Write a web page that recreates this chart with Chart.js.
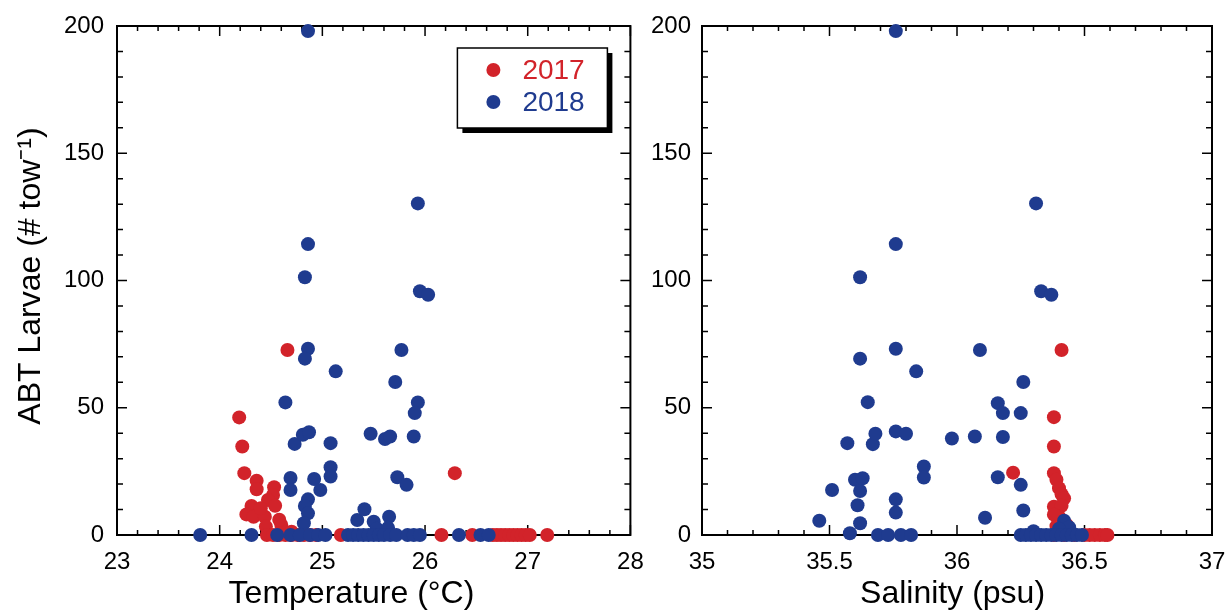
<!DOCTYPE html>
<html>
<head>
<meta charset="utf-8">
<script src="https://cdn.jsdelivr.net/npm/chart.js@4/dist/chart.umd.min.js"></script>
<style>
html, body { margin: 0; padding: 0; background: #fff; overflow: hidden; }
#wrap { position: relative; width: 1229px; height: 613px; }
canvas { position: absolute; top: 0; }
#chartT { left: 0; }
#chartS { left: 640px; }
</style>
</head>
<body>
<div id="wrap">
  <canvas id="chartT" width="660" height="613"></canvas>
  <canvas id="chartS" width="589" height="613"></canvas>
</div>
<script>
// ABT larvae vs temperature / salinity, 2017 and 2018 cruises
const years = ['2017', '2018'];
const red = '#d2232a';
const blue = '#1f3b8f';

// temperature panel (°C, # tow-1)
const temp2017 = [24.19, 24.22, 24.24, 24.36, 24.36, 24.53, 24.52, 24.47, 24.54, 24.31, 24.26, 24.33, 24.44, 24.45, 24.60, 24.70, 24.66, 26.29, 24.40, 24.58,
  24.46, 24.52, 24.58, 24.64, 24.70, 24.76, 24.82, 24.88, 24.94, 25.18, 26.16, 26.46, 26.66, 26.70, 26.74, 26.78, 26.82, 26.86, 26.90, 26.94, 26.98, 27.02, 27.19];
const larvaeT2017 = [46.2, 34.8, 24.3, 21.3, 18.0, 18.8, 15.7, 13.8, 11.5, 11.4, 8.1, 7.2, 7.2, 3.3, 3.9, 1.3, 72.7, 24.3, 10.5, 6.0,
  0, 0, 0, 0, 0, 0, 0, 0, 0, 0, 0, 0, 0, 0, 0, 0, 0, 0, 0, 0, 0, 0, 0];
const temp2018 = [24.86, 25.93, 24.86, 24.83, 25.95, 26.03, 24.86, 24.83, 25.77, 25.13, 25.71, 24.64, 25.93, 25.90, 24.73, 24.81, 24.87, 25.08, 25.08, 25.08,
  24.69, 24.69, 24.92, 24.98, 24.86, 24.83, 24.86, 24.82, 25.34, 25.47, 25.61, 25.66, 25.89, 25.73, 25.82, 25.41, 25.50, 25.65, 25.53, 25.64,
  23.81, 24.31, 24.56, 24.69, 24.78, 24.88, 24.96, 25.03, 25.25, 25.30, 25.35, 25.40, 25.45, 25.50, 25.55, 25.60, 25.66, 25.72, 25.83, 25.89, 25.95, 26.33, 26.54, 26.62];
const larvaeT2018 = [198, 130.3, 114.3, 101.3, 95.8, 94.4, 73.2, 69.3, 72.7, 64.3, 60.1, 52.1, 52.1, 47.9, 35.8, 39.4, 40.4, 36.1, 26.6, 23.0,
  22.4, 17.7, 22.0, 17.7, 14.0, 11.4, 8.5, 4.6, 5.9, 39.8, 37.7, 38.7, 38.7, 22.7, 19.7, 10.1, 5.2, 7.2, 2.5, 2.8,
  0, 0, 0, 0, 0, 0, 0, 0, 0, 0, 0, 0, 0, 0, 0, 0, 0, 0, 0, 0, 0, 0, 0, 0];

// salinity panel (psu, # tow-1)
const sal2017 = [36.41, 36.38, 36.38, 36.22, 36.38, 36.39, 36.40, 36.41, 36.42, 36.38, 36.41, 36.40, 36.38, 36.43, 36.39, 36.41,
  36.38, 36.42, 36.46, 36.50, 36.52, 36.54, 36.56, 36.58, 36.59];
const larvaeS2017 = [72.7, 46.3, 34.8, 24.5, 24.3, 21.7, 18.4, 16.0, 14.4, 11.1, 11.5, 7.2, 8.0, 4.0, 3.5, 1.5,
  0, 0, 0, 0, 0, 0, 0, 0, 0];
const sal2018 = [35.76, 36.31, 35.76, 35.62, 36.33, 36.37, 35.76, 35.62, 35.84, 36.09, 36.26, 35.65, 36.16, 36.18, 36.25, 35.57, 35.67, 35.68, 35.76, 35.80,
  35.98, 36.07, 36.18, 35.87, 35.87, 35.60, 35.63, 35.62, 35.51, 35.61, 35.76, 35.76, 35.46, 35.62, 35.58, 36.16, 36.25, 36.26, 36.11, 36.42,
  36.44, 36.30, 36.40,
  35.69, 35.73, 35.78, 35.82, 36.25, 36.27, 36.29, 36.31, 36.33, 36.35, 36.37, 36.39, 36.41, 36.43, 36.45, 36.47, 36.49];
const larvaeS2018 = [198, 130.3, 114.3, 101.3, 95.8, 94.4, 73.2, 69.3, 64.3, 72.7, 60.1, 52.2, 51.8, 47.9, 47.9, 36.1, 35.7, 39.8, 40.7, 39.8,
  37.9, 38.7, 38.5, 26.9, 22.6, 21.7, 22.3, 17.3, 17.7, 11.7, 14.0, 8.8, 5.6, 4.6, 0.7, 22.7, 19.7, 9.6, 6.8, 5.6,
  3.0, 1.5, 2.5,
  0, 0, 0, 0, 0, 0, 0, 0, 0, 0, 0, 0, 0, 0, 0, 0, 0];

const FONT = "'Liberation Sans', Arial, Helvetica, sans-serif";

function pts(xs, ys) {
  return xs.map((v, i) => ({ x: v, y: ys[i] }));
}

// only label the major ticks, the rest stay as minor marks
function majorOnly(step) {
  return function (v) {
    const r = Math.round(v / step) * step;
    return Math.abs(v - r) < 1e-6 ? String(+r.toFixed(1)) : '';
  };
}

// closed box with inward ticks on all four sides
const framePlugin = {
  id: 'frame',
  beforeDatasetsDraw(chart) {
    const { ctx, chartArea: a } = chart;
    const x = chart.scales.x, y = chart.scales.y;
    ctx.save();
    ctx.strokeStyle = '#000';
    ctx.lineWidth = 1.5;
    ctx.beginPath();
    x.ticks.forEach(t => {
      const p = x.getPixelForValue(t.value);
      const len = t.label ? 10 : 5;
      ctx.moveTo(p, a.bottom); ctx.lineTo(p, a.bottom - len);
      ctx.moveTo(p, a.top); ctx.lineTo(p, a.top + len);
    });
    y.ticks.forEach(t => {
      const p = y.getPixelForValue(t.value);
      const len = t.label ? 10 : 6;
      ctx.moveTo(a.left, p); ctx.lineTo(a.left + len, p);
      ctx.moveTo(a.right, p); ctx.lineTo(a.right - len, p);
    });
    ctx.stroke();
    ctx.lineWidth = 2;
    ctx.strokeRect(a.left, a.top, a.right - a.left, a.bottom - a.top);
    ctx.restore();
  }
};

// boxed legend with drop shadow, top right of the temperature panel
const boxLegend = {
  id: 'boxLegend',
  afterDatasetsDraw(chart) {
    const { ctx, chartArea: a } = chart;
    const w = 150, h = 80;
    const left = a.right - 23 - w, top = a.top + 22;
    ctx.save();
    ctx.fillStyle = '#000';
    ctx.fillRect(left + 5, top + 5, w, h);
    ctx.fillStyle = '#fff';
    ctx.fillRect(left, top, w, h);
    ctx.strokeStyle = '#000';
    ctx.lineWidth = 1.5;
    ctx.strokeRect(left, top, w, h);
    ctx.font = '28px ' + FONT;
    ctx.textBaseline = 'middle';
    chart.data.datasets.forEach((ds, i) => {
      const cy = top + 22 + i * 32;
      ctx.fillStyle = ds.backgroundColor;
      ctx.beginPath();
      ctx.arc(left + 36, cy, 7, 0, Math.PI * 2);
      ctx.fill();
      ctx.fillText(ds.label, left + 65, cy + 1);
    });
    ctx.restore();
  }
};

function makeDatasets(x17, y17, x18, y18) {
  return [
    { label: years[0], data: pts(x17, y17), backgroundColor: red, order: 2 },
    { label: years[1], data: pts(x18, y18), backgroundColor: blue, order: 1 }
  ].map(d => Object.assign(d, { pointRadius: 7, pointHoverRadius: 7, borderWidth: 0, clip: false }));
}

function makeOptions(cfg) {
  return {
    responsive: false,
    animation: false,
    events: [],
    layout: { padding: { left: 0, top: 26, right: cfg.padRight, bottom: 0 } },
    plugins: { legend: { display: false }, tooltip: { enabled: false } },
    scales: {
      x: {
        type: 'linear',
        min: cfg.xMin, max: cfg.xMax,
        afterFit(scale) {
          scale.height = 78;
          scale.paddingLeft = 0;
          scale.paddingRight = 0;
        },
        grid: { display: false, drawTicks: false },
        border: { display: false },
        ticks: {
          stepSize: cfg.xMinor, autoSkip: false, maxRotation: 0, padding: 13,
          color: '#000', font: { family: FONT, size: 24 },
          callback: majorOnly(cfg.xMajor)
        },
        title: {
          display: true, text: cfg.xTitle, color: '#000',
          font: { family: FONT, size: 32 }, padding: { top: 0, bottom: 0 }
        }
      },
      y: {
        type: 'linear',
        min: 0, max: 200,
        afterFit(scale) {
          scale.width = cfg.yWidth;
          scale.paddingTop = 0;
          scale.paddingBottom = 0;
        },
        grid: { display: false, drawTicks: false },
        border: { display: false },
        ticks: {
          stepSize: 10, autoSkip: false, padding: cfg.yPad,
          color: '#000', font: { family: FONT, size: 24 },
          callback: majorOnly(50)
        },
        title: {
          display: !!cfg.yTitle, text: cfg.yTitle || '', color: '#000',
          font: { family: FONT, size: 32 }, padding: { top: 12, bottom: 0 }
        }
      }
    }
  };
}

new Chart(document.getElementById('chartT'), {
  type: 'scatter',
  data: { datasets: makeDatasets(temp2017, larvaeT2017, temp2018, larvaeT2018) },
  options: makeOptions({
    xMin: 23, xMax: 28, xMinor: 0.2, xMajor: 1, xTitle: 'Temperature (°C)\u00a0\u00a0\u00a0\u00a0\u00a0',
    yWidth: 117, yPad: 13, yTitle: '\u00a0ABT Larvae (# tow⁻¹)', padRight: 29.6
  }),
  plugins: [framePlugin, boxLegend]
});

new Chart(document.getElementById('chartS'), {
  type: 'scatter',
  data: { datasets: makeDatasets(sal2017, larvaeS2017, sal2018, larvaeS2018) },
  options: makeOptions({
    xMin: 35, xMax: 37, xMinor: 0.1, xMajor: 0.5, xTitle: 'Salinity (psu)\u00a0',
    yWidth: 62, yPad: 11, yTitle: null, padRight: 17
  }),
  plugins: [framePlugin]
});
</script>
</body>
</html>
